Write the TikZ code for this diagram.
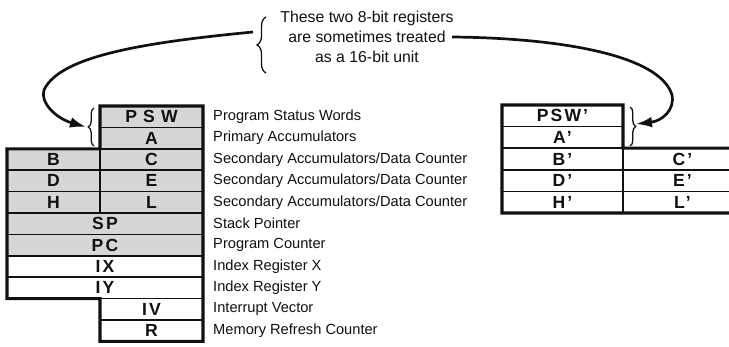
\documentclass[tikz,border=0pt]{standalone}
\usepackage{fontspec}
\setmainfont{Liberation Sans}
\usetikzlibrary{arrows.meta,decorations.pathreplacing}
\definecolor{rgink}{HTML}{111111}
\definecolor{rgshade}{HTML}{D6D6D6}
\tikzset{
  reg/.style={rectangle,draw=rgink,line width=1.5pt,inner sep=0pt,outer sep=0pt,minimum height=6.42mm,text=rgink,
    font=\fontsize{15}{17}\selectfont\bfseries\addfontfeatures{LetterSpace=12}},
  regalt/.style={reg,minimum height=6.48mm},
  shaded/.style={fill=rgshade},
  lefthalf/.style={minimum width=27.9mm},
  righthalf/.style={minimum width=30.9mm},
  fullrow/.style={minimum width=58.8mm},
  outline/.style={draw=rgink,line width=2.6pt,line join=miter},
  desc/.style={anchor=west,inner sep=0pt,font=\fontsize{12.5}{14}\selectfont,text=rgink},
  note/.style={align=center,inner sep=0pt,font=\fontsize{13.5}{17.2}\selectfont,text=rgink},
  brace/.style={decorate,decoration={brace,amplitude=#1},draw=rgink,line width=1.1pt},
  arc/.style={-{Latex[length=4.8mm,width=3.2mm]},draw=rgink,line width=2.3pt},
}

\begin{document}
\begin{tikzpicture}[x=0.3mm,y=-0.3mm]
  \clip (0,0) rectangle (729,347);
  \fill[white] (0,0) rectangle (729,347);
  % main register set
  \node[reg,shaded,righthalf] (PSW) at (151.5,116.7) {\addfontfeatures{LetterSpace=35}PSW};
  \node[reg,shaded,righthalf] (A) at (151.5,138.1) {A};
  \node[reg,shaded,lefthalf] (B) at (53.5,159.5) {B};
  \node[reg,shaded,righthalf] (C) at (151.5,159.5) {C};
  \node[reg,shaded,lefthalf] (D) at (53.5,180.9) {D};
  \node[reg,shaded,righthalf] (E) at (151.5,180.9) {E};
  \node[reg,shaded,lefthalf] (H) at (53.5,202.3) {H};
  \node[reg,shaded,righthalf] (L) at (151.5,202.3) {L};
  \node[reg,shaded,fullrow] (SP) at (105,223.7) {SP};
  \node[reg,shaded,fullrow] (PC) at (105,245.1) {PC};
  \node[reg,fullrow] (IX) at (105,266.5) {IX};
  \node[reg,fullrow] (IY) at (105,287.9) {IY};
  \node[reg,righthalf] (IV) at (151.5,309.3) {IV};
  \node[reg,righthalf] (R) at (151.5,330.7) {R};
  \draw[outline] (PSW.north west) -- (PSW.north east) -- (R.south east) -- (R.south west)
    -- (IY.south -| R.west) -- (IY.south west) -- (B.north west) -- (B.north east) -- cycle;
  \foreach \t [count=\i] in {Program Status Words,Primary Accumulators,
      Secondary Accumulators/Data Counter,Secondary Accumulators/Data Counter,
      Secondary Accumulators/Data Counter,Stack Pointer,Program Counter,
      Index Register X,Index Register Y,Interrupt Vector,Memory Refresh Counter}
    \node[desc] (desc\i) at (213,{106+21.4*(\i-0.5)}) {\t};
  % alternate register set
  \node[regalt,minimum width=36.3mm] (PSWp) at (562.5,115.8) {PSW'};
  \node[regalt,minimum width=36.3mm] (Ap) at (562.5,137.4) {A'};
  \node[regalt,minimum width=36.3mm] (Bp) at (562.5,159.0) {B'};
  \node[regalt,minimum width=35.7mm] (Cp) at (682.5,159.0) {C'};
  \node[regalt,minimum width=36.3mm] (Dp) at (562.5,180.6) {D'};
  \node[regalt,minimum width=35.7mm] (Ep) at (682.5,180.6) {E'};
  \node[regalt,minimum width=36.3mm] (Hp) at (562.5,202.2) {H'};
  \node[regalt,minimum width=35.7mm] (Lp) at (682.5,202.2) {L'};
  \draw[outline] (PSWp.north west) -- (PSWp.north east) -- (Cp.north west) -- (Cp.north east)
    -- (Lp.south east) -- (Hp.south west) -- cycle;
  % braces and the note
  \node[note] (pair) at (367,37) {These two 8-bit registers\\are sometimes treated\\as a 16-bit unit};
  \draw[brace=2.7mm] (266,73) -- (266,17);
  \draw[brace=1.7mm] (94,146) -- (94,108);
  \draw[brace=1.7mm] (630,107) -- (630,146);
  \coordinate (leftfrom) at (253,32);
  \coordinate (leftto) at (86,127);
  \coordinate (rightfrom) at (452,37);
  \coordinate (rightto) at (636,124);
  \draw[arc] (leftfrom) .. controls (150,42) and (60,55) .. (44,90)
    .. controls (40,102) and (55,118) .. (leftto);
  \draw[arc] (rightfrom) .. controls (560,38) and (660,55) .. (672,95)
    .. controls (675,110) and (662,121) .. (rightto);
\end{tikzpicture}
\end{document}
